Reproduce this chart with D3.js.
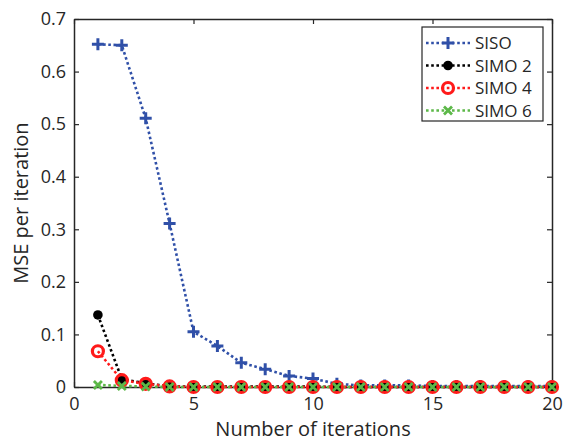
<!DOCTYPE html>
<html><head><meta charset="utf-8">
<script src="https://cdn.jsdelivr.net/npm/d3@7"></script>
<style>body{margin:0;background:#fff}text{font-family:"Open Sans",sans-serif;fill:#262626}</style>
</head><body><svg id="c" width="568" height="445"></svg>
<script>
const iterations = d3.range(1, 21);
const siso  = [0.652,0.650,0.511,0.311,0.105,0.078,0.046,0.034,0.021,0.016,0.006,0.003,0.003,0.003,0.002,0.002,0.002,0.002,0.002,0.002];
const simo2 = [0.137,0.015,0.007,0.001,0.001,0.001,0.001,0.001,0.001,0.001,0,0,0,0,0,0,0,0,0,0];
const simo4 = [0.068,0.013,0.006,0.001,0,0,0,0,0,0,0,0,0,0,0,0,0,0,0,0];
const simo6 = [0.004,0.002,0.001,0,0,0,0,0,0,0,0,0,0,0,0,0,0,0,0,0];
const xTicks = [0,5,10,15,20];
const yTicks = [0,0.1,0.2,0.3,0.4,0.5,0.6,0.7];
const seriesNames = ["SISO","SIMO 2","SIMO 4","SIMO 6"];

const series = [
  {name: seriesNames[0], values: siso,  color: "#3050a8", marker: "plus"},
  {name: seriesNames[1], values: simo2, color: "#000000", marker: "dot"},
  {name: seriesNames[2], values: simo4, color: "#ff1a1a", marker: "ring"},
  {name: seriesNames[3], values: simo6, color: "#5cb848", marker: "cross"}
];

const svg = d3.select("#c");
const L=74, R=552, T=19, B=387;
const x = d3.scaleLinear().domain([0,20]).range([L,R]);
const y = d3.scaleLinear().domain([0,0.7]).range([B,T]);

const axCol="#262626";
const gx = svg.append("g").attr("transform",`translate(0,${B})`).call(d3.axisBottom(x).tickValues(xTicks).tickSizeInner(-5).tickSizeOuter(0).tickPadding(10));
const gxt = svg.append("g").attr("transform",`translate(0,${T})`).call(d3.axisTop(x).tickValues(xTicks).tickSizeInner(-5).tickSizeOuter(0).tickFormat(""));
const gy = svg.append("g").attr("transform",`translate(${L},0)`).call(d3.axisLeft(y).tickValues(yTicks).tickSizeInner(-5).tickSizeOuter(0).tickPadding(8).tickFormat(d=>d===0?"0":d3.format(".1f")(d)));
const gyr = svg.append("g").attr("transform",`translate(${R},0)`).call(d3.axisRight(y).tickValues(yTicks).tickSizeInner(-5).tickSizeOuter(0).tickFormat(""));
[gx,gxt,gy,gyr].forEach(g=>{
  g.selectAll("path").attr("stroke",axCol).attr("stroke-width",1.5);
  g.selectAll("line").attr("stroke",axCol).attr("stroke-width",1.2);
  g.selectAll("text").attr("font-size",18).attr("fill",axCol).style("font-family","'Open Sans',sans-serif");
});

svg.append("text").attr("x",(L+R)/2).attr("y",436).attr("text-anchor","middle").attr("font-size",20).text("Number of iterations");
svg.append("text").attr("transform",`translate(28,${(T+B)/2}) rotate(-90)`).attr("text-anchor","middle").attr("font-size",20).text("MSE per iteration");

function drawMarker(g, type, color){
  if(type==="plus"){
    g.append("path").attr("d","M-6,0H6M0,-6V6").attr("stroke",color).attr("stroke-width",3).attr("fill","none");
  } else if(type==="dot"){
    g.append("circle").attr("r",4.8).attr("fill",color);
  } else if(type==="ring"){
    g.append("circle").attr("r",5.5).attr("fill","none").attr("stroke",color).attr("stroke-width",3.2);
  } else {
    g.append("path").attr("d","M-4,-4L4,4M-4,4L4,-4").attr("stroke",color).attr("stroke-width",2.8).attr("fill","none");
  }
}

const line = d3.line().x((d,i)=>x(iterations[i])).y(d=>y(d));
series.forEach(s=>{
  svg.append("path").datum(s.values).attr("d",line).attr("fill","none").attr("stroke",s.color).attr("stroke-width",2.6).attr("stroke-dasharray","2.6,2.6");
});
series.forEach(s=>{
  s.values.forEach((v,i)=>{
    const g = svg.append("g").attr("transform",`translate(${x(iterations[i])},${y(v)})`);
    drawMarker(g, s.marker, s.color);
  });
});

const lg = svg.append("g");
lg.append("rect").attr("x",422).attr("y",27).attr("width",121).attr("height",94).attr("fill","#fff").attr("stroke",axCol).attr("stroke-width",1.2);
series.forEach((s,i)=>{
  const yy = 43 + i*22.5;
  lg.append("line").attr("x1",426).attr("x2",470).attr("y1",yy).attr("y2",yy).attr("stroke",s.color).attr("stroke-width",2.6).attr("stroke-dasharray","2.6,2.6");
  drawMarker(lg.append("g").attr("transform",`translate(448,${yy})`), s.marker, s.color);
  lg.append("text").attr("x",475).attr("y",yy).attr("dy","0.36em").attr("font-size",17).text(s.name);
});
</script></body></html>
